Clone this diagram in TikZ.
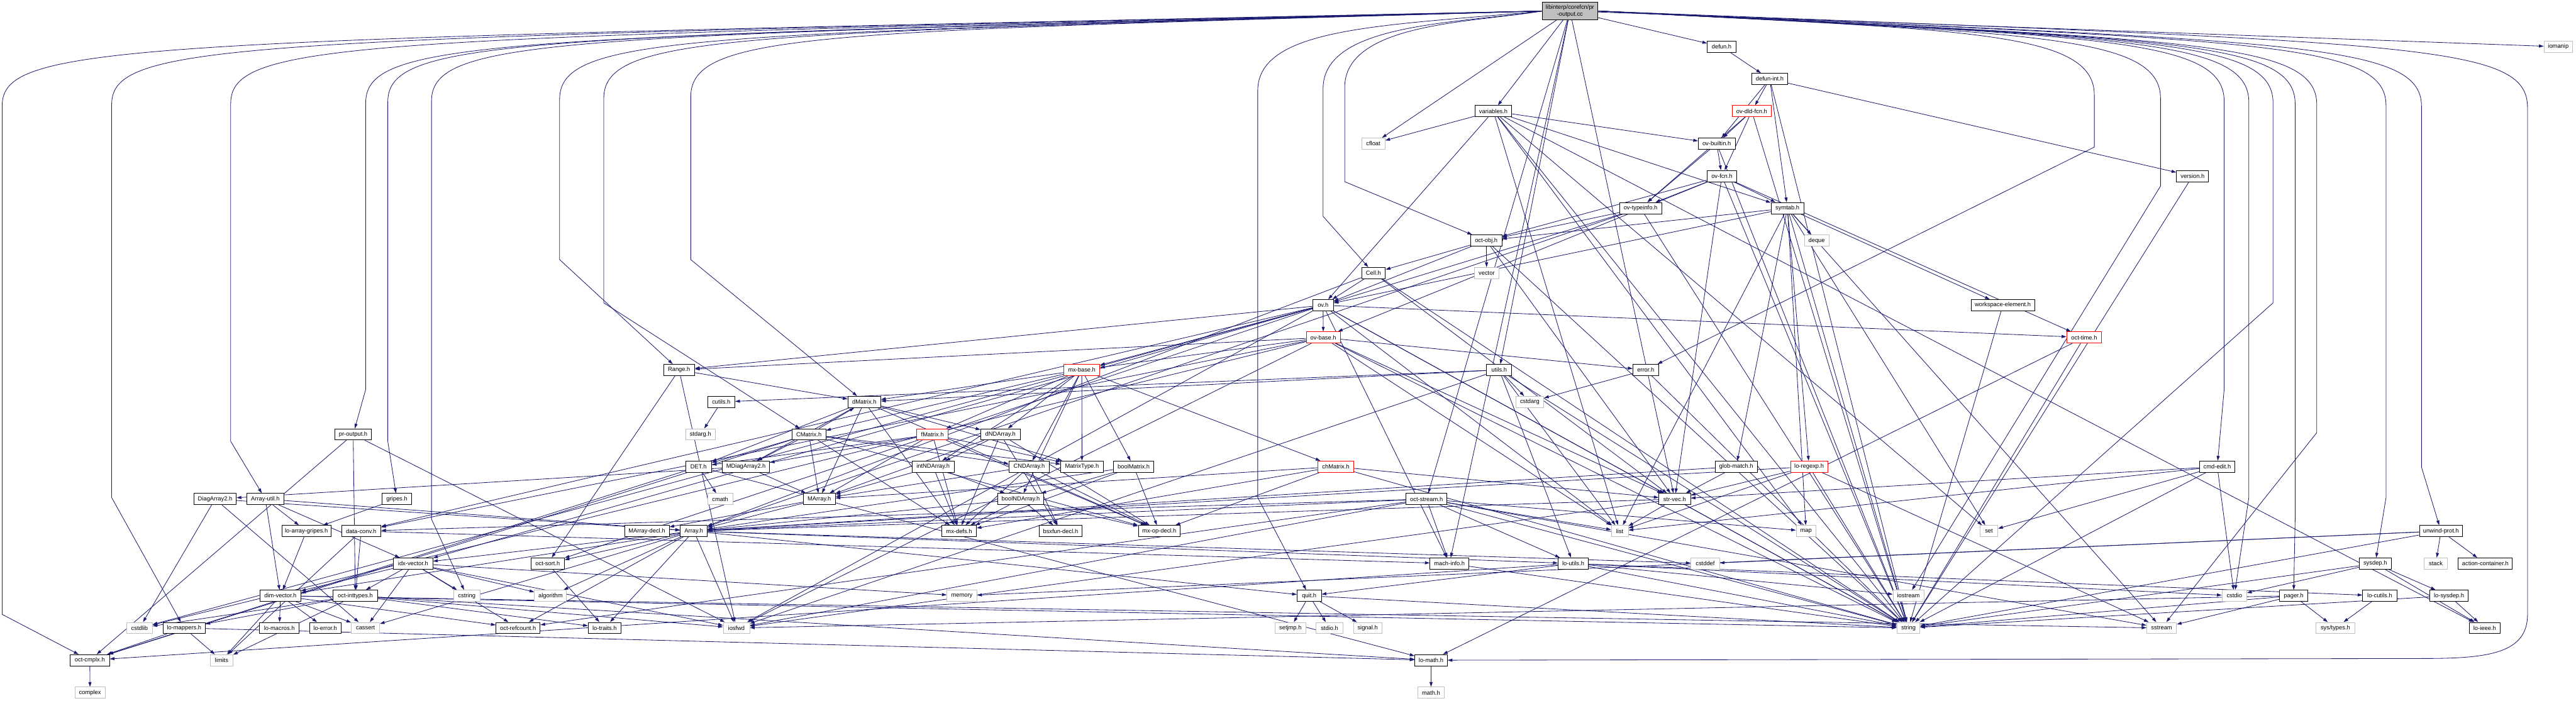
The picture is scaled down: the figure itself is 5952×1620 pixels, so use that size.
\documentclass[tikz,border=0pt]{standalone}
\usepackage{fontspec}
\setmainfont{Liberation Sans}
\usetikzlibrary{arrows.meta}
\definecolor{edgec}{HTML}{191970}
\definecolor{grayb}{HTML}{BFBFBF}
\pgfdeclarelayer{bg}
\pgfsetlayers{bg,main}
\tikzset{
 nb/.style={draw=black, fill=white, line width=0.6pt, inner sep=0pt, minimum height=13pt, font=\fontsize{6.8}{8}\selectfont},
 ng/.style={nb, draw=grayb},
 nr/.style={nb, draw=red},
 topn/.style={nb, fill=grayb, minimum height=20.5pt, align=center},
 e/.style={draw=edgec, line width=0.6pt, -{Triangle[length=5.5pt,width=3.5pt]}},
}
\newcommand\nn[6]{\node[#1, minimum width=#5pt] (#2) at (#3,#4) {#6};}
\newcommand\E[2]{\foreach \tg in {#2}{\draw[e] (#1) -- (\tg);}}
\newcommand\laneL[4]{\draw[e] (P.west) .. controls ({#2+300},#3) and (#2,#3) .. (#2,{#3+150}) -- (#2,#4) -- (#1);}
\newcommand\laneR[4]{\draw[e] (P.east) .. controls ({#2-300},#3) and (#2,#3) .. (#2,{#3+150}) -- (#2,#4) -- (#1);}
\begin{document}
\begin{tikzpicture}[x=0.5pt,y=-0.5pt]
\useasboundingbox (0,0) rectangle (5952,1620);
% nodes
\nn{topn}{P}{3627.5}{25.5}{63.5}{libinterp/corefcn/pr\\-output.cc}
\nn{nb}{defun}{3978}{108}{33}{defun.h}
\nn{ng}{iomanip}{5911}{108}{33}{iomanip}
\nn{nb}{defunint}{4089}{182.5}{41}{defun-int.h}
\nn{nb}{variables}{3450.5}{257}{42.5}{variables.h}
\nn{nr}{ovdld}{4047.5}{257}{45.5}{ov-dld-fcn.h}
\nn{ng}{cfloat}{3173}{332}{27}{cfloat}
\nn{nb}{ovbuiltin}{3966.5}{332}{42.5}{ov-builtin.h}
\nn{nb}{ovfcn}{3978.5}{407}{34.5}{ov-fcn.h}
\nn{nb}{version}{5066}{407}{37}{version.h}
\nn{nb}{ovtypeinfo}{3790.5}{481}{48.5}{ov-typeinfo.h}
\nn{nb}{symtab}{4130}{481}{38}{symtab.h}
\nn{nb}{octobj}{3434}{556}{36}{oct-obj.h}
\nn{ng}{deque}{4197.5}{556}{28.5}{deque}
\nn{nb}{cell}{3173.5}{631}{27.5}{Cell.h}
\nn{ng}{vector}{3435}{631}{29}{vector}
\nn{nb}{ov}{3057}{705.5}{24}{ov.h}
\nn{nb}{wselem}{4627.5}{705.5}{73.5}{workspace-element.h}
\nn{nr}{ovbase}{3057.5}{780}{39.5}{ov-base.h}
\nn{nr}{octtime}{4815.5}{780}{40.5}{oct-time.h}
\nn{nb}{range}{1569}{855}{36}{Range.h}
\nn{nr}{mxbase}{2499.5}{855}{41.5}{mx-base.h}
\nn{nb}{utils}{3464}{855}{29}{utils.h}
\nn{nb}{error}{3802.5}{855}{29.5}{error.h}
\nn{nb}{cutils}{1666.5}{929}{31.5}{cutils.h}
\nn{nb}{dmatrix}{1997}{929}{38}{dMatrix.h}
\nn{ng}{cstdarg}{3534.5}{929}{32.5}{cstdarg}
\nn{nb}{proutput}{816}{1004}{42}{pr-output.h}
\nn{ng}{stdarg}{1618.5}{1004}{34.5}{stdarg.h}
\nn{nb}{cmatrix}{1869}{1004}{39}{CMatrix.h}
\nn{nr}{fmatrix}{2154.5}{1004}{36.5}{fMatrix.h}
\nn{nb}{dndarray}{2311.5}{1004}{45.5}{dNDArray.h}
\nn{nb}{det}{1614}{1078.5}{30}{DET.h}
\nn{nb}{mdiag}{1723.5}{1078.5}{54.5}{MDiagArray2.h}
\nn{nb}{intnd}{2156}{1078.5}{49}{intNDArray.h}
\nn{nb}{cnd}{2378}{1078.5}{47}{CNDArray.h}
\nn{nb}{mtype}{2500}{1078.5}{49}{MatrixType.h}
\nn{nb}{boolmat}{2619.5}{1078.5}{46.5}{boolMatrix.h}
\nn{nr}{chmat}{3086.5}{1078.5}{41.5}{chMatrix.h}
\nn{nb}{glob}{4011.5}{1078.5}{48.5}{glob-match.h}
\nn{nr}{regexp}{4180}{1078.5}{43}{lo-regexp.h}
\nn{nb}{cmdedit}{5123}{1078.5}{41}{cmd-edit.h}
\nn{nb}{diag}{497}{1153.5}{49}{DiagArray2.h}
\nn{nb}{arrutil}{613}{1153.5}{43}{Array-util.h}
\nn{nb}{gripes}{917}{1153.5}{34}{gripes.h}
\nn{ng}{cmath}{1664}{1153.5}{29}{cmath}
\nn{nb}{marray}{1893}{1153.5}{37}{MArray.h}
\nn{nb}{boolnd}{2358.5}{1153.5}{53.5}{boolNDArray.h}
\nn{nb}{octstream}{3296}{1153.5}{47}{oct-stream.h}
\nn{nb}{strvec}{3869.5}{1153.5}{36.5}{str-vec.h}
\nn{nb}{logripes}{708}{1227.5}{57}{lo-array-gripes.h}
\nn{nb}{dataconv}{834.5}{1227.5}{45.5}{data-conv.h}
\nn{nb}{marrdecl}{1494.5}{1227.5}{51.5}{MArray-decl.h}
\nn{nb}{array}{1603}{1227.5}{31}{Array.h}
\nn{nb}{mxdefs}{2216}{1227.5}{40}{mx-defs.h}
\nn{nb}{bsxfun}{2450.5}{1227.5}{49.5}{bsxfun-decl.h}
\nn{nb}{mxop}{2678.5}{1227.5}{48.5}{mx-op-decl.h}
\nn{ng}{list}{3742.5}{1227.5}{19.5}{list}
\nn{ng}{map}{4173}{1227.5}{23}{map}
\nn{ng}{set}{4595.5}{1227.5}{20.5}{set}
\nn{nb}{unwind}{5640}{1227.5}{50}{unwind-prot.h}
\nn{nb}{idx}{954.5}{1302.5}{45.5}{idx-vector.h}
\nn{nb}{octsort}{1265.5}{1302.5}{38.5}{oct-sort.h}
\nn{nb}{machinfo}{3349}{1302.5}{45}{mach-info.h}
\nn{nb}{loutils}{3635}{1302.5}{35}{lo-utils.h}
\nn{ng}{cstddef}{3940}{1302.5}{33}{cstddef}
\nn{nb}{sysdep}{5488}{1302.5}{37}{sysdep.h}
\nn{ng}{stack}{5628}{1302.5}{27}{stack}
\nn{nb}{actcont}{5742.5}{1302.5}{62.5}{action-container.h}
\nn{nb}{dimvec}{648}{1377}{47}{dim-vector.h}
\nn{nb}{inttypes}{821}{1377}{51}{oct-inttypes.h}
\nn{ng}{cstring}{1078.5}{1377}{30.5}{cstring}
\nn{ng}{algorithm}{1272}{1377}{37}{algorithm}
\nn{ng}{memory}{2222.5}{1377}{34.5}{memory}
\nn{nb}{quit}{3025}{1377}{28}{quit.h}
\nn{ng}{iostream}{4409.5}{1377}{35.5}{iostream}
\nn{ng}{cstdio}{5162.5}{1377}{28.5}{cstdio}
\nn{nb}{pager}{5299.5}{1377}{32.5}{pager.h}
\nn{nb}{locutils}{5498.5}{1377}{39.5}{lo-cutils.h}
\nn{nb}{losysdep}{5658.5}{1377}{44.5}{lo-sysdep.h}
\nn{ng}{cstdlib}{322.5}{1451.5}{29.5}{cstdlib}
\nn{nb}{mappers}{425.5}{1451.5}{48.5}{lo-mappers.h}
\nn{nb}{macros}{645.5}{1451.5}{45.5}{lo-macros.h}
\nn{nb}{loerror}{751.5}{1451.5}{36.5}{lo-error.h}
\nn{ng}{cassert}{844.5}{1451.5}{32.5}{cassert}
\nn{nb}{refcount}{1197}{1451.5}{51}{oct-refcount.h}
\nn{nb}{traits}{1397}{1451.5}{38}{lo-traits.h}
\nn{ng}{iosfwd}{1701.5}{1451.5}{30.5}{iosfwd}
\nn{ng}{setjmp}{2981.5}{1451.5}{35.5}{setjmp.h}
\nn{ng}{stdio}{3072}{1451.5}{31}{stdio.h}
\nn{ng}{signal}{3160}{1451.5}{33}{signal.h}
\nn{ng}{string}{4409.5}{1451.5}{26.5}{string}
\nn{ng}{sstream}{4994.5}{1451.5}{34.5}{sstream}
\nn{ng}{systypes}{5396}{1451.5}{45}{sys/types.h}
\nn{nb}{loieee}{5741}{1451.5}{35}{lo-ieee.h}
\nn{nb}{cmplx}{207.5}{1526}{45.5}{oct-cmplx.h}
\nn{ng}{limits}{512}{1526}{26}{limits}
\nn{nb}{lomath}{3306.5}{1526}{37.5}{lo-math.h}
\nn{ng}{complex}{208}{1601}{35}{complex}
\nn{ng}{mathh}{3306.5}{1601}{30.5}{math.h}
\begin{pgfonlayer}{bg}
\fill[white] (0,0) rectangle (5952,1620);
% edges from the top file
\E{P}{cfloat,variables,defun,iomanip,utils,octstream,machinfo,strvec}
\laneL{cmplx}{5}{95}{1420}
\laneL{mappers}{258}{92}{1150}
\laneL{arrutil}{533}{90}{1020}
\laneL{proutput}{845}{88}{900}
\laneL{gripes}{896}{86}{1020}
\laneL{cstring}{997}{84}{1200}
\laneL{range}{1293}{80}{600}
\laneL{cmatrix}{1395}{78}{700}
\laneL{dmatrix}{1596}{74}{600}
\laneL{quit}{2906}{60}{1150}
\laneL{cell}{3057}{55}{500}
\laneL{octobj}{3107}{52}{420}
\laneR{error}{4839}{70}{340}
\laneR{iostream}{4992}{78}{430}
\laneR{cmdedit}{5139}{84}{900}
\laneR{cstdio}{5196}{86}{1150}
\laneR{string}{5252}{88}{700}
\laneR{pager}{5303}{90}{1200}
\laneR{sstream}{5353}{92}{1000}
\laneR{sysdep}{5513}{94}{1150}
\laneR{unwind}{5595}{96}{1080}
\draw[e] (P.east) .. controls (5600,100) and (5840,100) .. (5840,250) -- (5840,1420) .. controls (5840,1510) and (5750,1522) .. (5600,1522) -- (lomath);
% other edges
\E{defun}{defunint}
\E{defunint}{ovbuiltin,ovdld,symtab,version,string}
\E{ovdld}{ovbuiltin,ovfcn,ovtypeinfo,string}
\E{ovbuiltin}{ovfcn,ovtypeinfo,string}
\E{ovfcn}{ovtypeinfo,symtab,octobj,ovbase,octtime,strvec,string}
\E{variables}{cfloat,ovbuiltin,symtab,ov,list,map,set,string,loieee}
\E{ovtypeinfo}{octobj,ov,array,string}
\E{symtab}{deque,list,map,set,string,glob,regexp,octobj,ov,wselem,sstream}
\E{wselem}{string}
\E{version}{string}
\E{octobj}{cell,vector,ov,strvec,string}
\E{cell}{ov,array,strvec,string}
\E{ov}{ovbase,mxbase,octtime,range,dataconv,idx,machinfo,strvec,octsort,string,list,iosfwd,cstdlib}
\E{ovbase}{mxbase,range,dataconv,strvec,error,string,list,iosfwd,cstdlib}
\E{octtime}{string,lomath}
\E{error}{cstdarg,string}
\E{utils}{cstdarg,cutils,dmatrix,loutils,iosfwd,list,string}
\E{range}{dmatrix,octsort,iosfwd}
\E{mxbase}{mtype,boolmat,chmat,dmatrix,cmatrix,fmatrix,dndarray,cnd,boolnd,intnd}
\E{cutils}{stdarg}
\E{dmatrix}{det,mdiag,mtype,dndarray,mxdefs,mxop,marray}
\E{cmatrix}{det,mdiag,mtype,mxdefs,mxop,cmplx,cnd,marray,dmatrix}
\E{fmatrix}{det,mdiag,mtype,mxdefs,mxop,marray}
\E{dndarray}{intnd,marray,mxdefs,bsxfun,mxop}
\E{intnd}{marray,boolnd,mxdefs}
\E{cnd}{marray,mxdefs,mxop,bsxfun}
\E{boolmat}{boolnd,mxdefs,mxop,array}
\E{boolnd}{array,mxdefs,bsxfun,mxop}
\E{chmat}{strvec,marray,mxdefs,mxop,string}
\E{det}{cmath,cmplx,lomath}
\E{mdiag}{diag,marray}
\E{diag}{cstdlib,cassert,array}
\E{marray}{array,marrdecl}
\E{array}{cassert,cstddef,algorithm,iosfwd,dimvec,idx,traits,loutils,octsort,quit,refcount}
\E{idx}{dimvec,inttypes,cstring,algorithm,cassert,refcount,memory,iosfwd}
\E{octsort}{traits}
\E{arrutil}{logripes,dimvec,idx,array}
\E{gripes}{logripes}
\E{logripes}{dimvec}
\E{dataconv}{limits,machinfo,inttypes}
\E{dimvec}{cassert,limits,loerror,macros,refcount,sstream,string}
\E{inttypes}{cstdlib,limits,iosfwd,traits,lomath,mappers}
\E{mappers}{cmplx,limits,lomath}
\E{cmplx}{complex}
\E{lomath}{mathh}
\E{octstream}{list,map,machinfo,loutils,array,dataconv,refcount,iosfwd,sstream,string}
\E{strvec}{list,array,string,iosfwd}
\E{machinfo}{string}
\E{loutils}{quit,iostream,string,cstdio,cmplx,locutils}
\E{quit}{setjmp,stdio,signal,string}
\E{glob}{array,strvec}
\E{regexp}{list,sstream,string,array,strvec}
\E{cmdedit}{cstdio,set,string,strvec,list}
\E{unwind}{stack,actcont,cstddef,string,memory}
\E{sysdep}{cstdio,string,loieee,losysdep}
\E{pager}{sstream,systypes,string,iosfwd}
\E{locutils}{systypes}
\E{losysdep}{loieee,string}
\E{proutput}{cmplx,inttypes,iosfwd}
\end{pgfonlayer}
\end{tikzpicture}
\end{document}
